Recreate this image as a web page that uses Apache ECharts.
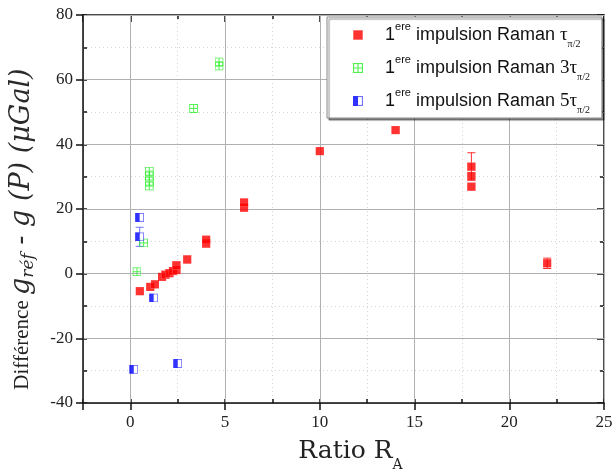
<!DOCTYPE html>
<html>
<head>
<meta charset="utf-8">
<script src="https://cdn.jsdelivr.net/npm/echarts@6/dist/echarts.min.js"></script>
<style>html,body{margin:0;padding:0;background:#fff}#c{width:612px;height:473px}</style>
</head>
<body>
<div id="c"></div>
<script>
// ---- data ----
const redX = [0.5, 1.05, 1.3, 1.67, 1.85, 2.06, 2.25, 2.43, 2.43, 3.0, 4, 4, 6, 6, 10, 14, 18, 18, 18, 22];
const redY = [-5.4, -4.1, -3.3, -1.0, -0.3, 0.15, 0.8, 1.1, 2.6, 4.4, 9.3, 10.5, 20.4, 22.0, 37.9, 44.4, 26.9, 30.2, 33.1, 3.2];
const greenX = [0.35, 0.7, 1.0, 1.0, 1.0, 1.0, 3.34, 4.68, 4.68];
const greenY = [0.6, 9.5, 27.1, 28.6, 30.2, 31.7, 51.1, 64.2, 65.5];
const blueX = [0.18, 0.49, 0.49, 1.23, 2.5];
const blueY = [-29.6, 11.4, 17.4, -7.5, -27.8];
// error bars: x, y, +/- error
const redErrX = [18, 22];
const redErrY = [33.1, 3.2];
const redErrV = [4.3, 1.6];
const blueErrX = [0.49];
const blueErrY = [11.4];
const blueErrV = [2.95];
const seriesNames = ['1ere impulsion Raman τπ/2', '1ere impulsion Raman 3τπ/2', '1ere impulsion Raman 5τπ/2'];
const legendLabels = [
  '{p|}1{sup|ere}{t| impulsion Raman }{tau|τ}{sub|π/2}',
  '{p|}1{sup|ere}{t| impulsion Raman }{tau|3τ}{sub|π/2}',
  '{p|}1{sup|ere}{t| impulsion Raman }{tau|5τ}{sub|π/2}'
];
const xTickLabels = ['0', '5', '10', '15', '20', '25'];
const yTickLabels = ['-40', '-20', '0', '20', '40', '60', '80'];

function svgUri(s) { return 'image://data:image/svg+xml;charset=utf-8,' + encodeURIComponent(s); }
const symRed = svgUri("<svg xmlns='http://www.w3.org/2000/svg' width='18' height='18' viewBox='0 0 18 18'><rect x='0' y='0' width='18' height='18' fill='#ff9090'/><rect x='1' y='1' width='16' height='16' fill='#ff0000'/></svg>");
const symGreen = svgUri("<svg xmlns='http://www.w3.org/2000/svg' width='18' height='18' viewBox='0 0 18 18'><rect x='1' y='1' width='16' height='16' fill='none' stroke='#22ee22' stroke-width='2'/><path d='M9 1V17M1 9H17' stroke='#22ee22' stroke-width='2'/></svg>");
const symBlue = svgUri("<svg xmlns='http://www.w3.org/2000/svg' width='18' height='18' viewBox='0 0 18 18'><rect x='1' y='1' width='16' height='16' fill='#ffffff' stroke='#5050ff' stroke-width='2'/><rect x='0' y='0' width='9' height='18' fill='#0000ff'/></svg>");

function zip(a, b) { return a.map((v, i) => [v, b[i]]); }
function zip3(a, b, c) { return a.map((v, i) => [v, b[i], c[i]]); }

function errRender(color) {
  return function (params, api) {
    const x = api.value(0), y = api.value(1), e = api.value(2);
    const top = api.coord([x, y + e]);
    const bot = api.coord([x, y - e]);
    const w = 4;
    const st = { stroke: color, lineWidth: 1 };
    return {
      type: 'group',
      children: [
        { type: 'line', shape: { x1: top[0], y1: top[1], x2: bot[0], y2: bot[1] }, style: st },
        { type: 'line', shape: { x1: top[0] - w, y1: top[1], x2: top[0] + w, y2: top[1] }, style: st },
        { type: 'line', shape: { x1: bot[0] - w, y1: bot[1], x2: bot[0] + w, y2: bot[1] }, style: st }
      ]
    };
  };
}

const serif = 'Liberation Serif';
const wserif = 'DejaVu Serif';
const tickFont = { fontFamily: serif, fontSize: 17, color: '#222' };
const blackLine = { color: '#111', width: 1.5 };

const chart = echarts.init(document.getElementById('c'), null, { renderer: 'canvas' });
chart.setOption({
  animation: false,
  backgroundColor: '#fff',
  grid: { left: 83, right: 8, top: 15, bottom: 70, containLabel: false, outerBoundsMode: 'none' },
  xAxis: [
    { type: 'value', position: 'bottom', min: -2.5, max: 25, splitNumber: 5,
      axisLine: { onZero: false, lineStyle: blackLine },
      axisTick: { inside: false, length: 7, lineStyle: blackLine },
      axisLabel: { ...tickFont, margin: 11, formatter: v => (xTickLabels.indexOf(String(v)) >= 0 ? String(v) : '') },
      splitLine: { show: true, lineStyle: { color: '#b0b0b0', width: 1 } },
      name: '{r|Ratio R}{sub|A}', nameLocation: 'middle', nameGap: 33,
      nameTextStyle: { padding: [0, 0, 0, 14],
        rich: {
          r: { fontFamily: wserif, fontSize: 25, color: '#222', lineHeight: 30 },
          sub: { fontFamily: wserif, fontSize: 14, color: '#222', verticalAlign: 'bottom', lineHeight: 14, padding: [0, 0, -6, 0] } } },
      z: 3 },
    { type: 'value', position: 'bottom', min: -2.5, max: 25, interval: 2.5,
      axisLine: { show: false, onZero: false }, axisTick: { inside: true, length: 4, lineStyle: blackLine },
      axisLabel: { show: false },
      splitLine: { show: true, lineStyle: { color: '#d4d4d4', width: 1, type: [1, 3] } }, z: 1 },
    { type: 'value', position: 'top', min: -2.5, max: 25, interval: 2.5,
      axisLine: { onZero: false, lineStyle: blackLine }, axisTick: { inside: true, length: 4, lineStyle: blackLine },
      axisLabel: { show: false }, splitLine: { show: false } },
    { type: 'value', position: 'top', min: -2.5, max: 25, splitNumber: 5,
      axisLine: { show: false, onZero: false }, axisTick: { inside: true, length: 7, lineStyle: blackLine },
      axisLabel: { show: false }, splitLine: { show: false } }
  ],
  yAxis: [
    { type: 'value', position: 'left', min: -40, max: 80, interval: 20,
      axisLine: { onZero: false, lineStyle: blackLine },
      axisTick: { inside: false, length: 7, lineStyle: blackLine },
      axisLabel: { ...tickFont, margin: 10, formatter: v => (yTickLabels.indexOf(String(v)) >= 0 ? String(v) : '') },
      splitLine: { show: true, lineStyle: { color: '#b0b0b0', width: 1 } },
      name: '{n|Différence }{i|g}{s|réf}{i| - g (P) (μGal)}', nameLocation: 'middle', nameGap: 46, nameRotate: 90,
      nameTextStyle: { padding: [0, 40, 0, 0],
        rich: {
          n: { fontFamily: serif, fontSize: 21, color: '#222', lineHeight: 30 },
          i: { fontFamily: wserif, fontSize: 27, fontStyle: 'italic', color: '#2a2a2a', lineHeight: 30 },
          s: { fontFamily: wserif, fontSize: 17, fontStyle: 'italic', color: '#2a2a2a', verticalAlign: 'bottom', lineHeight: 16 }
        } },
      z: 3 },
    { type: 'value', position: 'left', min: -40, max: 80, interval: 10,
      axisLine: { show: false, onZero: false }, axisTick: { inside: true, length: 4, lineStyle: blackLine },
      axisLabel: { show: false },
      splitLine: { show: true, lineStyle: { color: '#d4d4d4', width: 1, type: [1, 3] } }, z: 1 },
    { type: 'value', position: 'right', min: -40, max: 80, interval: 10,
      axisLine: { onZero: false, lineStyle: blackLine }, axisTick: { inside: true, length: 4, lineStyle: blackLine },
      axisLabel: { show: false }, splitLine: { show: false } },
    { type: 'value', position: 'right', min: -40, max: 80, interval: 20,
      axisLine: { show: false, onZero: false }, axisTick: { inside: true, length: 7, lineStyle: blackLine },
      axisLabel: { show: false }, splitLine: { show: false } }
  ],
  legend: {
    data: seriesNames,
    orient: 'vertical', left: 327, top: 17,
    padding: [4, 12, 3, 26], itemGap: 5, itemWidth: 10, itemHeight: 10,
    backgroundColor: '#fff', borderColor: '#888', borderWidth: 1,
    shadowColor: 'rgba(0,0,0,0.45)', shadowOffsetX: 2, shadowOffsetY: 2, shadowBlur: 1,
    formatter: name => legendLabels[seriesNames.indexOf(name)],
    textStyle: {
      fontFamily: 'Liberation Sans', fontSize: 18, color: '#111',
      rich: {
        p: { width: 17, lineHeight: 28 },
        t: { fontFamily: 'Liberation Sans', fontSize: 18, lineHeight: 28 },
        sup: { fontFamily: 'Liberation Sans', fontSize: 11, verticalAlign: 'top', lineHeight: 13 },
        tau: { fontFamily: serif, fontSize: 19, lineHeight: 28 },
        sub: { fontFamily: serif, fontSize: 10, verticalAlign: 'bottom', lineHeight: 9 }
      }
    }
  },
  series: [
    { type: 'custom', name: 'errRed', xAxisIndex: 0, yAxisIndex: 0, renderItem: errRender('#ff3030'),
      data: zip3(redErrX, redErrY, redErrV), z: 2, silent: true },
    { type: 'custom', name: 'errBlue', xAxisIndex: 0, yAxisIndex: 0, renderItem: errRender('#7070ff'),
      data: zip3(blueErrX, blueErrY, blueErrV), z: 2, silent: true },
    { type: 'scatter', name: seriesNames[0], symbol: symRed, symbolSize: 9, data: zip(redX, redY), z: 3 },
    { type: 'scatter', name: seriesNames[1], symbol: symGreen, symbolSize: 9, data: zip(greenX, greenY), z: 3 },
    { type: 'scatter', name: seriesNames[2], symbol: symBlue, symbolSize: 9, data: zip(blueX, blueY), z: 3 }
  ]
});
</script>
</body>
</html>
